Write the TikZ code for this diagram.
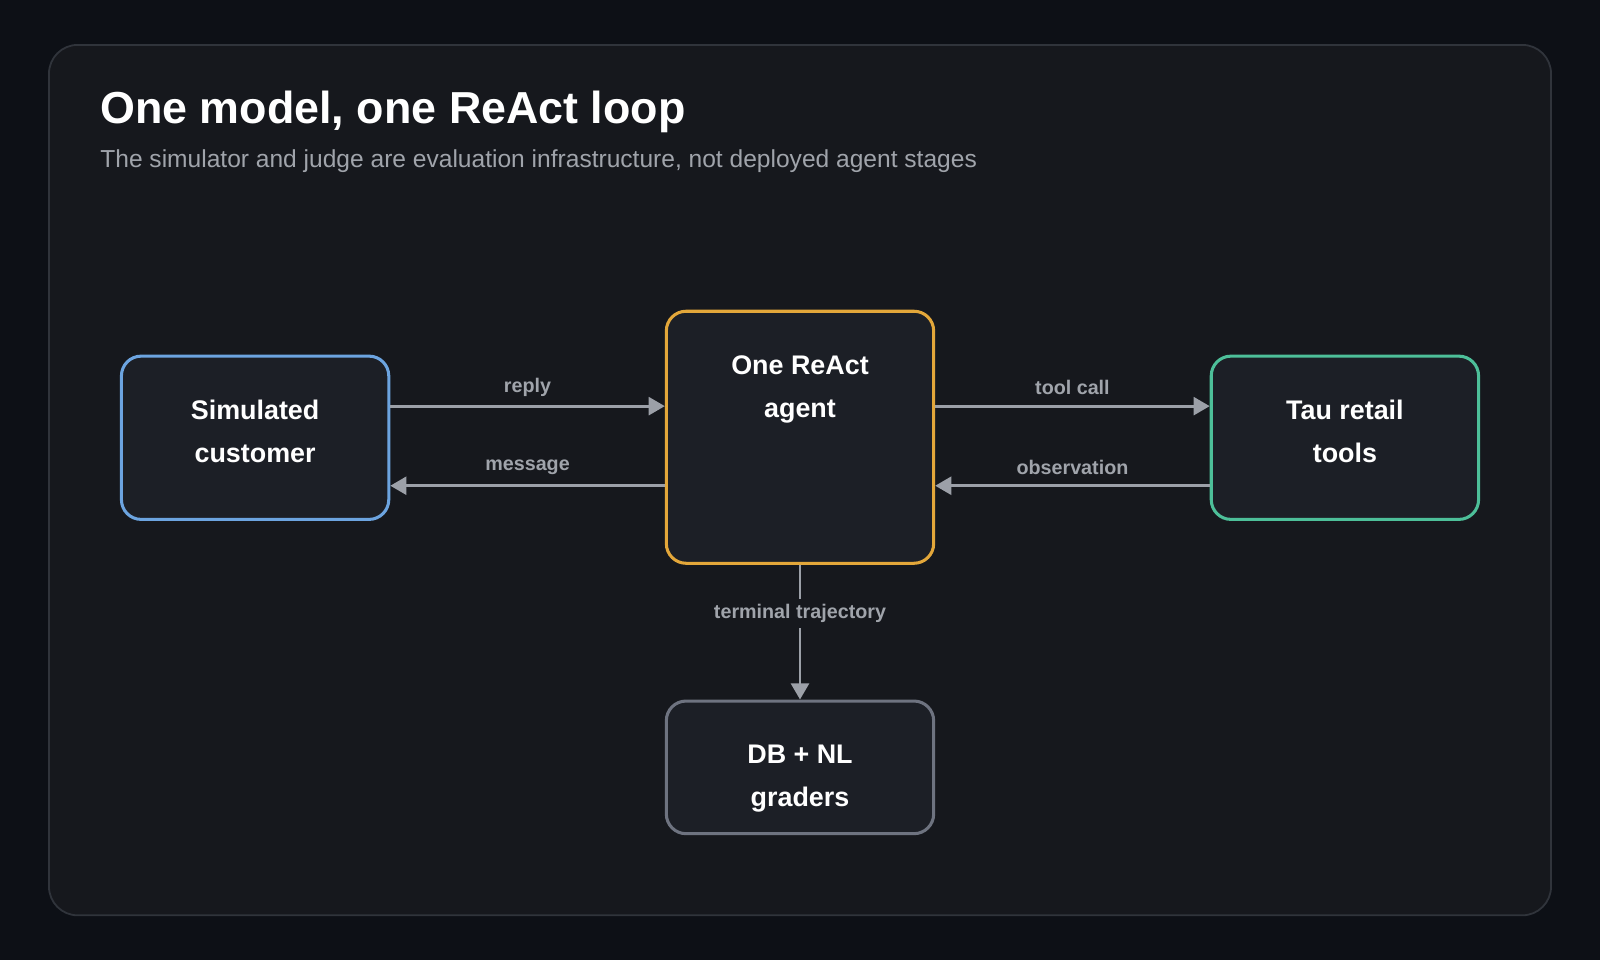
\documentclass[tikz,border=0pt]{standalone}
\usepackage{fontspec}
\setmainfont{Liberation Sans}
\usetikzlibrary{arrows.meta}

\definecolor{pagebg}{HTML}{0D1016}
\definecolor{cardbg}{HTML}{16181D}
\definecolor{cardline}{HTML}{30343B}
\definecolor{boxbg}{HTML}{1C1F26}
\definecolor{custblue}{HTML}{6CA4E0}
\definecolor{agentorange}{HTML}{E3A73A}
\definecolor{toolgreen}{HTML}{4DBF99}
\definecolor{gradergray}{HTML}{6E7380}
\definecolor{wiregray}{HTML}{9CA0A8}
\definecolor{subgray}{HTML}{A0A4AB}

\tikzset{
  stagebox/.style={draw, line width=1.7pt, fill=boxbg, rounded corners=11pt,
    minimum width=262*0.02cm, minimum height=160*0.02cm},
  stagetext/.style={align=center, text=white, font=\bfseries\fontsize{15}{24}\selectfont},
  wire/.style={draw=wiregray, line width=1.6pt, -{Triangle[length=9pt,width=10pt]}},
  wirelabel/.style={text=subgray, font=\bfseries\fontsize{11}{13}\selectfont}
}

\begin{document}
\begin{tikzpicture}[x=0.02cm, y=-0.02cm]

    % background and card
    \fill[pagebg] (0,0) rectangle (1568,941);
    \draw[cardline, fill=cardbg, line width=1pt, rounded corners=16pt] (48,44) rectangle (1520,897);

    % heading
    \node[anchor=base west, inner sep=0pt, text=white, font=\bfseries\fontsize{25}{30}\selectfont] (title) at (98,121) {One model, one ReAct loop};
    \node[anchor=base west, inner sep=0pt, text=subgray, font=\fontsize{13.7}{16}\selectfont] (subtitle) at (98,164) {The simulator and judge are evaluation infrastructure, not deployed agent stages};

    % stages
    \node[stagebox, draw=custblue] (sim) at (250,429) {};
    \node[stagetext] (simtxt) at (250,423) {Simulated\\customer};
    \node[stagebox, draw=agentorange, minimum height=247*0.02cm] (agent) at (784,428.5) {};
    \node[stagetext] (agenttxt) at (784,382) {One ReAct\\agent};
    \node[stagebox, draw=toolgreen] (tools) at (1318,429) {};
    \node[stagetext] (toolstxt) at (1318,423) {Tau retail\\tools};
    \node[stagebox, draw=gradergray, minimum height=130*0.02cm] (graders) at (784,752) {};
    \node[stagetext] (graderstxt) at (784,763) {DB + NL\\graders};

    % loop wires
    \draw[wire] (sim.east |- 0,398) -- (agent.west |- 0,398) node[wirelabel, midway, above=1pt] {reply};
    \draw[wire] (agent.west |- 0,476) -- (sim.east |- 0,476) node[wirelabel, midway, above=2pt] {message};
    \draw[wire] (agent.east |- 0,398) -- (tools.west |- 0,398) node[wirelabel, midway, above=2pt] {tool call};
    \draw[wire] (tools.west |- 0,476) -- (agent.east |- 0,476) node[wirelabel, midway, above=2pt] {observation};

    % grading
    \draw[wire] (agent.south) -- (graders.north) node[wirelabel, pos=0.36, fill=cardbg, inner sep=3pt] {terminal trajectory};

\end{tikzpicture}
\end{document}
